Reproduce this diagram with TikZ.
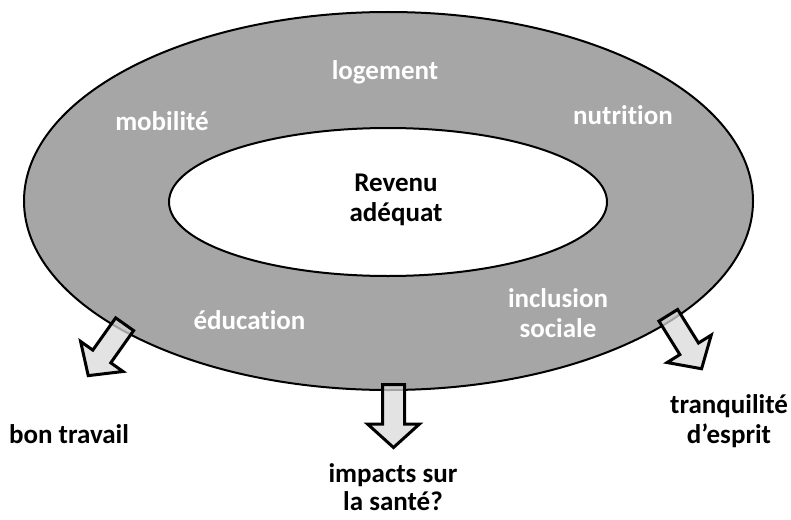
\documentclass[tikz,border=0pt]{standalone}
\usepackage{fontspec}
\setmainfont{Carlito}[Ligatures=NoCommon]
\definecolor{ringgray}{HTML}{A6A6A6}
\definecolor{arrowgray}{HTML}{D9D9D9}
\tikzset{
  ring/.style={draw=black, line width=2pt, fill=ringgray},
  hole/.style={draw=black, line width=2pt, fill=white},
  lbl/.style={font=\bfseries\fontsize{27}{30}\selectfont, inner sep=0pt, anchor=base, align=center},
  ringtext/.style={lbl, text=white},
  arrowbody/.style={draw=black, line width=3pt, line join=miter, fill=arrowgray, fill opacity=0.75},
  blockarrow/.pic={
    \draw[arrowbody] (1.5pt,11pt) -- (41pt,11pt) -- (41pt,26pt) -- (64.5pt,0pt)
      -- (41pt,-26pt) -- (41pt,-11pt) -- (1.5pt,-11pt) -- cycle;
  }
}
\begin{document}
\begin{tikzpicture}[x=1pt,y=-1pt]
\useasboundingbox (0,0) rectangle (791,519);
\coordinate (outc) at (388.5,201);
\coordinate (inc) at (388,202);
\draw[ring] (outc) ellipse [x radius=364.5pt, y radius=189pt];
\draw[hole] (inc) ellipse [x radius=219pt, y radius=74pt];

\node[ringtext] (logement) at (385,79) {logement};
\node[ringtext] (mobilite) at (162,130) {mobilité};
\node[ringtext] (nutrition) at (623,124) {nutrition};
\node[lbl] (revenu) at (396,221) {Revenu\\adéquat};
\node[ringtext] (education) at (249.5,329) {éducation};
\node[ringtext] (inclusion) at (558,337) {inclusion\\sociale};

\coordinate (tailL) at (125.5,323);
\coordinate (tailM) at (393.5,383);
\coordinate (tailR) at (667.5,314);
\pic[rotate=234.7] (arrowL) at (tailL) {blockarrow};
\pic[rotate=-90] (arrowM) at (tailM) {blockarrow};
\pic[rotate=-58.1] (arrowR) at (tailR) {blockarrow};

\node[lbl] (travail) at (69,443) {bon travail};
\node[lbl, font=\bfseries\fontsize{27}{28}\selectfont] (sante) at (393,510) {impacts sur\\la santé?};
\node[lbl] (esprit) at (729,443) {tranquilité\\d’esprit};
\end{tikzpicture}
\end{document}
